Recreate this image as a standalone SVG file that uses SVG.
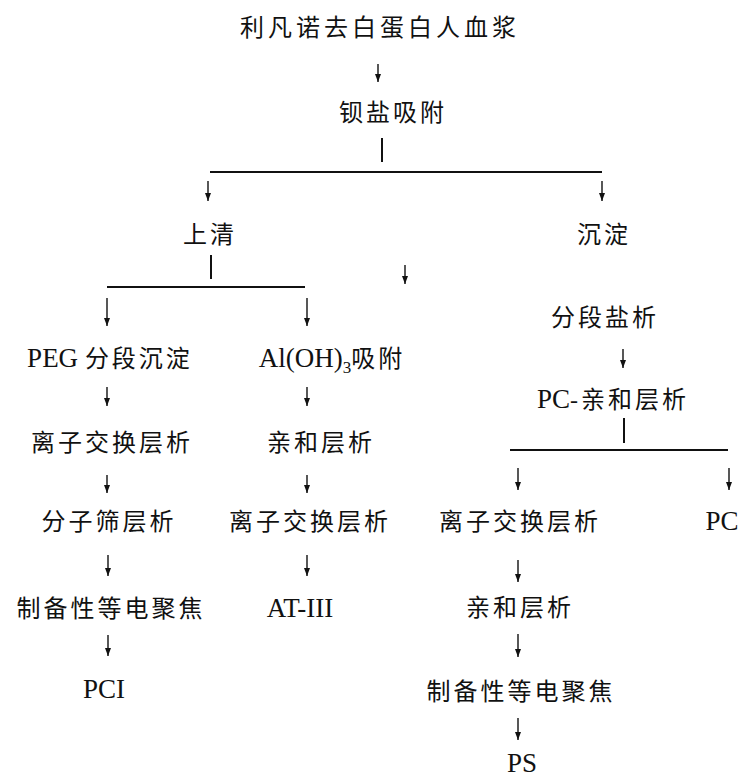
<svg xmlns="http://www.w3.org/2000/svg" width="750" height="779" viewBox="0 0 750 779">
<style>
.t{font-family:"Liberation Serif","Noto Sans CJK SC",serif;font-size:24px;letter-spacing:3px;fill:#111;text-anchor:middle}
.l{font-family:"Liberation Serif","Noto Sans CJK SC",serif;font-size:27px;fill:#111;text-anchor:middle}
.b{stroke:#111;stroke-width:2;fill:none}
.a{stroke:#111;stroke-width:1.4;fill:none;marker-end:url(#ah)}
</style>
<defs>
<marker id="ah" markerUnits="userSpaceOnUse" markerWidth="9" markerHeight="8" viewBox="0 0 9 8" refX="8" refY="4" orient="auto">
<path d="M0,1 L8,4 L0,7 Z" fill="#111"/>
</marker>
</defs>
<rect width="750" height="779" fill="#fff"/>
<g id="n-plasma"><text class="t" x="380" y="36" style="letter-spacing:4px">利凡诺去白蛋白人血浆</text></g>
<g id="n-ba"><text class="t" x="393" y="121">钡盐吸附</text></g>
<g id="n-sup"><text class="t" x="210" y="243">上清</text></g>
<g id="n-ppt"><text class="t" x="604" y="243">沉淀</text></g>
<g id="n-peg"><text class="t" x="110" y="367"><tspan style="font-size:27px;letter-spacing:0">PEG </tspan>分段沉淀</text></g>
<g id="n-aloh"><text class="t" x="332" y="367"><tspan style="font-size:27px;letter-spacing:0">Al(OH)</tspan><tspan style="font-size:17px;letter-spacing:0" dy="6">3</tspan><tspan dy="-6">吸附</tspan></text></g>
<g id="n-ion1"><text class="t" x="112" y="451">离子交换层析</text></g>
<g id="n-aff1"><text class="t" x="321" y="451">亲和层析</text></g>
<g id="n-sec"><text class="t" x="109" y="530">分子筛层析</text></g>
<g id="n-ion2"><text class="t" x="310" y="530">离子交换层析</text></g>
<g id="n-ief1"><text class="t" x="111" y="617">制备性等电聚焦</text></g>
<g id="n-at3"><text class="l" x="300" y="617">AT-III</text></g>
<g id="n-pci"><text class="l" x="104" y="698">PCI</text></g>
<g id="n-salt"><text class="t" x="605" y="326">分段盐析</text></g>
<g id="n-pcaff"><text class="t" x="613" y="408"><tspan style="font-size:27px;letter-spacing:0">PC</tspan>-亲和层析</text></g>
<g id="n-ion3"><text class="t" x="520" y="530">离子交换层析</text></g>
<g id="n-pc"><text class="l" x="722" y="530">PC</text></g>
<g id="n-aff3"><text class="t" x="520" y="616">亲和层析</text></g>
<g id="n-ief2"><text class="t" x="521" y="700">制备性等电聚焦</text></g>
<g id="n-ps"><text class="l" x="522" y="772">PS</text></g>
<g id="connectors">
<line class="a" x1="378" y1="64" x2="378" y2="82"/>
<line class="b" x1="382" y1="138" x2="382" y2="162"/>
<line class="b" x1="210" y1="172" x2="602" y2="172"/>
<line class="a" x1="208" y1="181" x2="208" y2="201"/>
<line class="a" x1="602" y1="181" x2="602" y2="201"/>
<line class="b" x1="211" y1="255" x2="211" y2="279"/>
<line class="b" x1="107" y1="287" x2="305" y2="287"/>
<line class="a" x1="107" y1="298" x2="107" y2="326"/>
<line class="a" x1="307" y1="298" x2="307" y2="326"/>
<line class="a" x1="405" y1="265" x2="405" y2="284"/>
<line class="a" x1="107" y1="387" x2="107" y2="406"/>
<line class="a" x1="307" y1="387" x2="307" y2="406"/>
<line class="a" x1="107" y1="475" x2="107" y2="493"/>
<line class="a" x1="307" y1="475" x2="307" y2="493"/>
<line class="a" x1="108" y1="555" x2="108" y2="576"/>
<line class="a" x1="307" y1="555" x2="307" y2="576"/>
<line class="a" x1="108" y1="635" x2="108" y2="656"/>
<line class="a" x1="623" y1="349" x2="623" y2="368"/>
<line class="b" x1="624" y1="418" x2="624" y2="443"/>
<line class="b" x1="510" y1="450" x2="728" y2="450"/>
<line class="a" x1="518" y1="468" x2="518" y2="490"/>
<line class="a" x1="729" y1="468" x2="729" y2="490"/>
<line class="a" x1="518" y1="560" x2="518" y2="582"/>
<line class="a" x1="518" y1="634" x2="518" y2="657"/>
<line class="a" x1="518" y1="718" x2="518" y2="740"/>
</g>
</svg>
